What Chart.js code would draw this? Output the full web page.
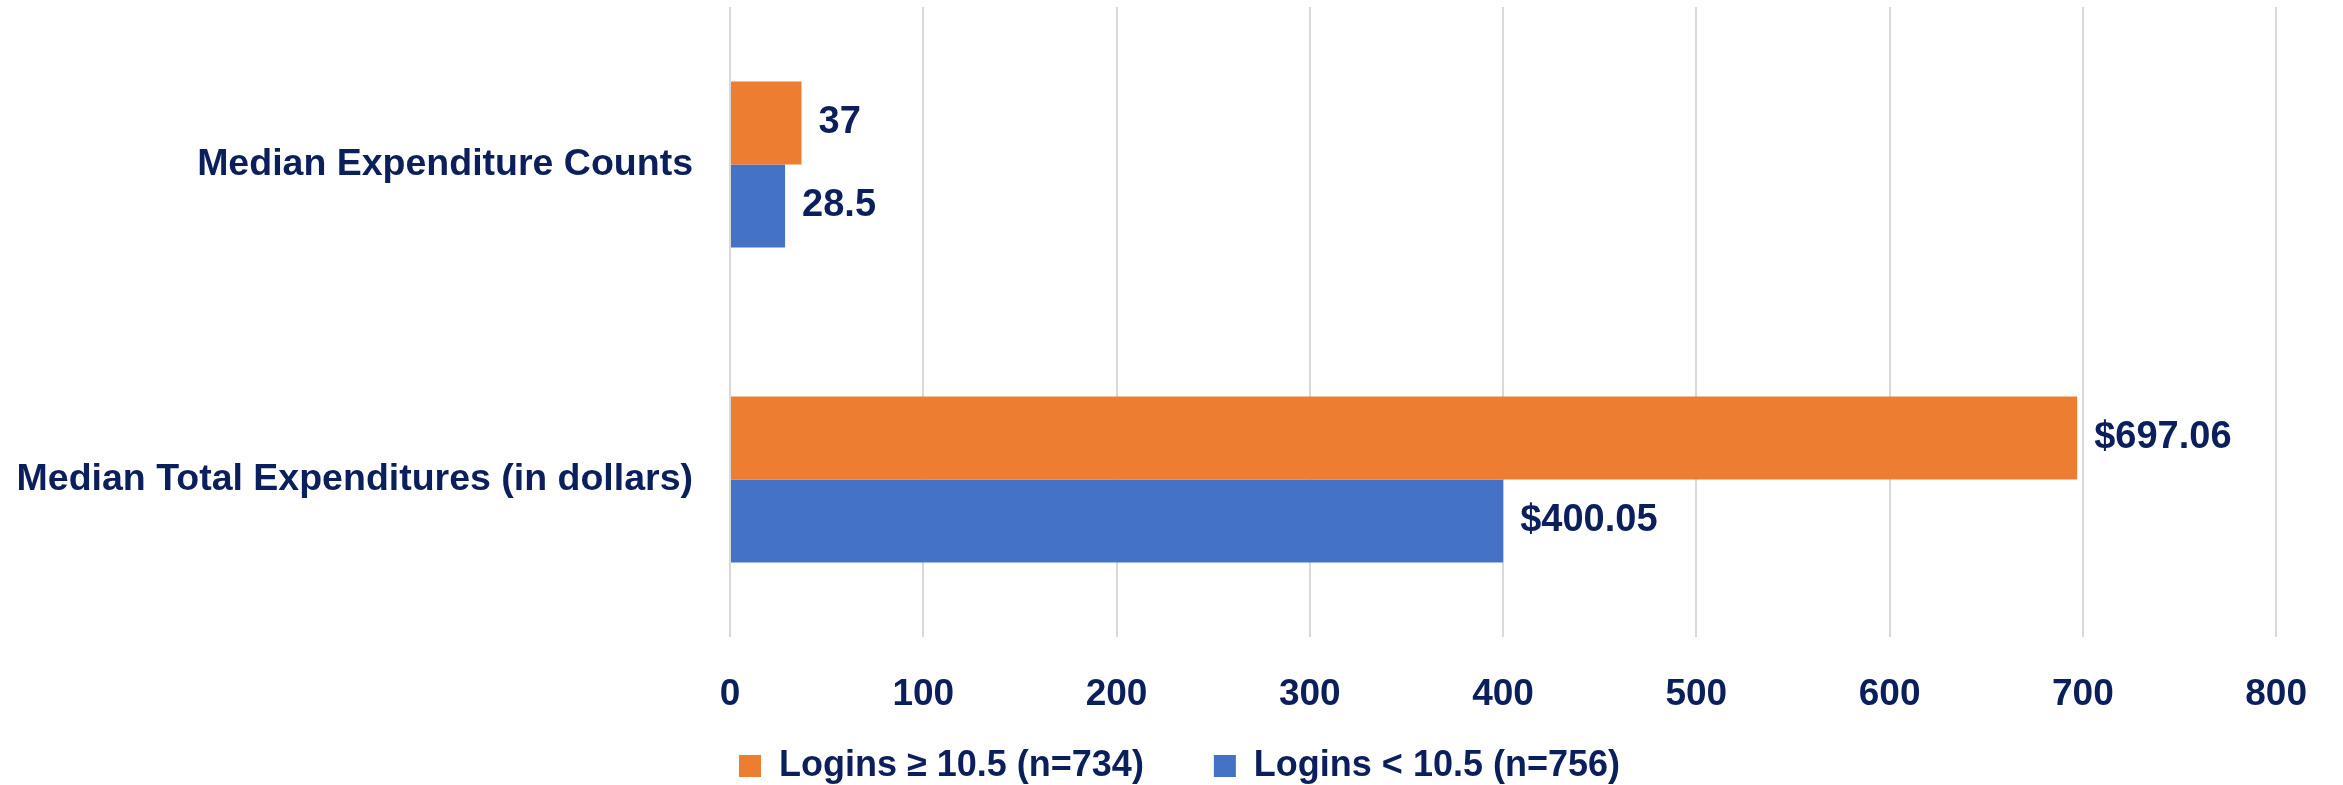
<!DOCTYPE html>
<html>
<head>
<meta charset="utf-8">
<script src="https://cdn.jsdelivr.net/npm/chart.js@4.4.1/dist/chart.umd.min.js"></script>
<style>
  html, body { margin: 0; padding: 0; background: #ffffff; }
  #wrap { width: 2343px; height: 785px; position: relative; }
</style>
</head>
<body>
<div id="wrap"><canvas id="myChart"></canvas></div>
<script>
const categories = ["Median Expenditure Counts", "Median Total Expenditures (in dollars)"];
const seriesNames = ["Logins \u2265 10.5 (n=734)", "Logins < 10.5 (n=756)"];
const highLogins = [37, 697.06];
const lowLogins = [28.5, 400.05];
const highLabels = ["37", "$697.06"];
const lowLabels = ["28.5", "$400.05"];
const xTicks = [0, 100, 200, 300, 400, 500, 600, 700, 800];

const navy = "#0b1f5c";
const fontFamily = "'Liberation Sans', Arial, sans-serif";

// draws the value next to each bar, like the excel data labels
const barLabels = {
    id: "barLabels",
    afterDatasetsDraw(chart) {
        const ctx = chart.ctx;
        const texts = [highLabels, lowLabels];
        ctx.save();
        ctx.font = "bold 38px " + fontFamily;
        ctx.fillStyle = navy;
        ctx.textAlign = "left";
        ctx.textBaseline = "middle";
        chart.data.datasets.forEach((ds, i) => {
            const meta = chart.getDatasetMeta(i);
            meta.data.forEach((bar, j) => {
                ctx.fillText(texts[i][j], bar.x + 17, bar.y);
            });
        });
        ctx.restore();
    }
};

// excel centres the legend a little right of the canvas middle
const legendShift = {
    id: "legendShift",
    afterLayout(chart) {
        const legend = chart.legend;
        legend.left += 28;
        legend.right += 28;
        legend.top += 3;
        legend.bottom += 3;
    }
};

const ctx = document.getElementById("myChart").getContext("2d");

const myChart = new Chart(ctx, {
    type: "bar",
    data: {
        labels: categories,
        datasets: [{
            label: seriesNames[0],
            data: highLogins,
            backgroundColor: "#ed7d31",
            barPercentage: 1,
            categoryPercentage: 0.527
        }, {
            label: seriesNames[1],
            data: lowLogins,
            backgroundColor: "#4472c4",
            barPercentage: 1,
            categoryPercentage: 0.527
        }]
    },
    options: {
        indexAxis: "y",
        responsive: true,
        maintainAspectRatio: false,
        animation: false,
        layout: {
            padding: { top: 7, right: 55, left: 15, bottom: -6 }
        },
        plugins: {
            legend: {
                position: "bottom",
                labels: {
                    color: navy,
                    font: { family: fontFamily, size: 36, weight: "bold" },
                    boxWidth: 22,
                    boxHeight: 22,
                    padding: 30,
                    // a bit more room after the first item, excel spaces them wider
                    generateLabels: (chart) => {
                        const items = Chart.defaults.plugins.legend.labels.generateLabels(chart);
                        items[0].text = items[0].text + "\u00a0\u00a0\u00a0\u00a0";
                        return items;
                    }
                }
            },
            tooltip: { enabled: false }
        },
        scales: {
            x: {
                min: 0,
                max: 800,
                afterBuildTicks: (scale) => {
                    scale.ticks = xTicks.map(v => ({ value: v }));
                },
                afterFit: (scale) => { scale.height = 78; },
                grid: { color: "#d9d9d9", lineWidth: 2, drawTicks: false },
                border: { display: false },
                ticks: {
                    color: navy,
                    padding: 36,
                    font: { family: fontFamily, size: 37, weight: "bold" }
                }
            },
            y: {
                afterFit: (scale) => {
                    scale.width = 715;
                    scale.paddingTop = 0;
                    scale.paddingBottom = 0;
                },
                grid: { display: false, drawTicks: false },
                border: { display: false },
                ticks: {
                    color: navy,
                    padding: 37,
                    font: { family: fontFamily, size: 37.5, weight: "bold" }
                }
            }
        }
    },
    plugins: [barLabels, legendShift]
});
</script>
</body>
</html>
